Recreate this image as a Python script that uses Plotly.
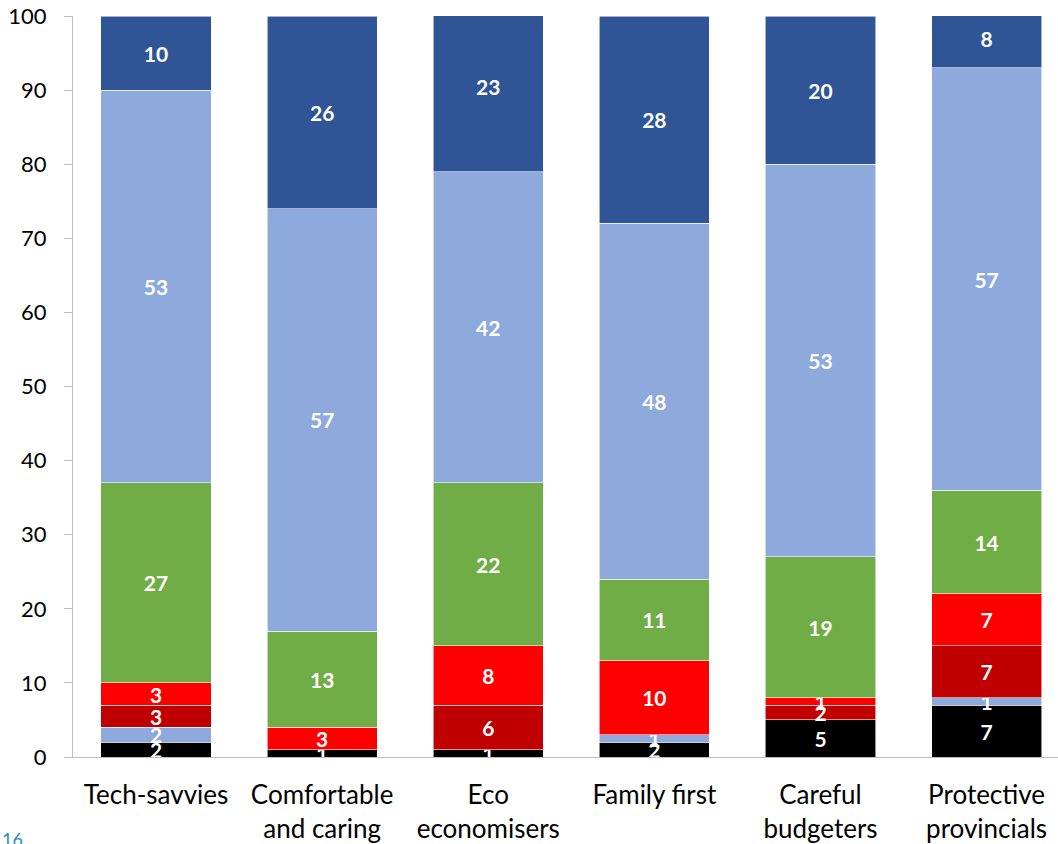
import plotly.graph_objects as go

categories = ["Tech-savvies", "Comfortable<br>and caring", "Eco<br>economisers",
              "Family first", "Careful<br>budgeters", "Protective<br>provincials"]

seg_black = [2, 1, 1, 2, 5, 7]
seg_lightblue_small = [2, 0, 0, 1, 0, 1]
seg_darkred = [3, 0, 6, 0, 2, 7]
seg_red = [3, 3, 8, 10, 1, 7]
seg_green = [27, 13, 22, 11, 19, 14]
seg_lightblue = [53, 57, 42, 48, 53, 57]
seg_darkblue = [10, 26, 23, 28, 20, 8]

series = [
    ("Segment A", seg_black, "#000000"),
    ("Segment B", seg_lightblue_small, "#8EA9DB"),
    ("Segment C", seg_darkred, "#C00000"),
    ("Segment D", seg_red, "#FF0000"),
    ("Segment E", seg_green, "#70AD47"),
    ("Segment F", seg_lightblue, "#8EA9DB"),
    ("Segment G", seg_darkblue, "#2F5597"),
]

FONT = "Lato"

fig = go.Figure()
for name, vals, color in series:
    fig.add_trace(go.Bar(
        x=categories, y=vals, name=name,
        marker=dict(color=color, line=dict(color="rgba(255,255,255,0.7)", width=0.8)),
        text=[str(v) if v else "" for v in vals],
        textposition="inside", insidetextanchor="middle", textangle=0,
        textfont=dict(color="white", size=21, family=FONT, weight="bold"),
        cliponaxis=True,
    ))

fig.update_layout(
    barmode="stack", bargap=0.337, showlegend=False,
    width=1058, height=844,
    margin=dict(l=73, r=0, t=16, b=87, autoexpand=False),
    plot_bgcolor="white", paper_bgcolor="white",
    font=dict(family=FONT, color="#000000"),
    uniformtext=dict(minsize=21, mode="show"),
    xaxis=dict(range=[-0.5, 5.43], showline=True, linecolor="#BFBFBF", linewidth=1,
               ticks="", tickfont=dict(size=26, color="#000000", family=FONT),
               showgrid=False, ticklabelstandoff=15, automargin=False),
    yaxis=dict(range=[0, 100], dtick=10, showline=True, linecolor="#BFBFBF", linewidth=1,
               ticks="outside", ticklen=8, tickcolor="#BFBFBF", showgrid=False,
               tickfont=dict(size=22, color="#000000", family=FONT), zeroline=False,
               ticklabelstandoff=13, ticklabeloverflow="allow", automargin=False),
    annotations=[dict(text="16", x=0, y=0, xref="paper", yref="paper", xanchor="left",
                      yanchor="top", xshift=-73, yshift=-69, showarrow=False,
                      font=dict(size=18, color="#2E8BC0", family=FONT))],
)

fig.write_html("out.html", config={"displayModeBar": False},
               post_script="document.body.style.margin='0';")
